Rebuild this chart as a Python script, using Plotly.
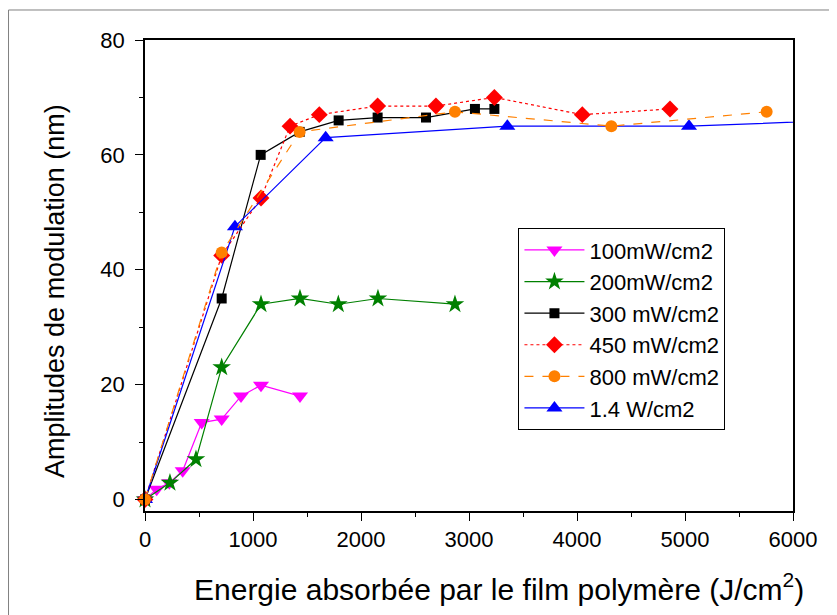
"""
Amplitude de modulation vs energie absorbee, par puissance d'ecriture
"""

import plotly.graph_objects as go

# Energy (J/cm2) and modulation amplitude (nm) for each power
x_100 = [0, 108, 225, 349, 525, 710, 889, 1074, 1435]
y_100 = [0, 1.8, 2.9, 5.0, 13.4, 14.0, 18.0, 19.9, 18.0]

x_200 = [0, 231, 472, 710, 1074, 1435, 1790, 2157, 2870]
y_200 = [0, 2.9, 7.0, 23.0, 34.0, 35.0, 34.0, 35.0, 34.0]

x_300 = [0, 710, 1071, 1432, 1793, 2154, 2602, 3055, 3235]
y_300 = [0, 35.0, 60.0, 64.0, 66.0, 66.5, 66.5, 68.0, 68.0]

x_450 = [0, 710, 1074, 1343, 1614, 2154, 2694, 3235, 4049, 4861]
y_450 = [0, 42.5, 52.5, 65.0, 67.0, 68.5, 68.5, 70.0, 67.0, 68.0]

x_800 = [0, 710, 1432, 2870, 4318, 5756]
y_800 = [0, 43.0, 64.0, 67.5, 65.0, 67.5]

x_1400 = [0, 833, 1673, 3355, 5037, 6720]
y_1400 = [0, 47.5, 63.0, 65.0, 65.0, 66.2]

FONT = 'Liberation Sans, Arial, sans-serif'

# drawing order (orange on top), legend order set by legendrank
series = [
    ('100mW/cm2', x_100, y_100, '#FF00FF', 'solid', 'triangle-down', 14, 1, False),
    ('200mW/cm2', x_200, y_200, '#008000', 'solid', 'star', 14, 2, False),
    ('300 mW/cm2', x_300, y_300, '#000000', 'solid', 'square', 10, 3, False),
    ('450 mW/cm2', x_450, y_450, '#FF0000', 'dot', 'diamond', 13, 4, False),
    ('1.4 W/cm2', x_1400, y_1400, '#0000FF', 'solid', 'triangle-up', 14, 6, True),
    ('800 mW/cm2', x_800, y_800, '#FF8000', 'dash', 'circle', 12, 5, False),
]

fig = go.Figure()

for name, xs, ys, color, dash, symbol, size, rank, clip in series:
    fig.add_trace(go.Scatter(
        name=name,
        x=xs,
        y=ys,
        mode='lines+markers',
        line=dict(color=color, width=1.2, dash=dash),
        marker=dict(symbol=symbol, size=size, color=color, line=dict(width=0)),
        legendrank=rank,
        cliponaxis=clip,
    ))

axis_common = dict(
    showgrid=False,
    zeroline=False,
    showline=True,
    linecolor='black',
    linewidth=1.5,
    mirror=True,
    ticks='outside',
    ticklen=8,
    tickwidth=1.2,
    tickcolor='black',
    tickfont=dict(family=FONT, size=22, color='black'),
)

# the page body adds an 8px offset, so the figure is 8px smaller
fig.update_layout(
    width=829,
    height=607,
    template='plotly_white',
    paper_bgcolor='white',
    plot_bgcolor='white',
    margin=dict(l=137, r=44, t=32, b=104),
    font=dict(family=FONT, color='black'),
    xaxis=dict(
        range=[0, 6000],
        tickmode='linear',
        tick0=0,
        dtick=1000,
        minor=dict(dtick=500, ticks='outside', ticklen=4, tickcolor='black'),
        **axis_common
    ),
    yaxis=dict(
        range=[-2, 80],
        tickmode='array',
        tickvals=[0, 20, 40, 60, 80],
        ticklabelstandoff=6,
        minor=dict(tickvals=[10, 30, 50, 70], ticks='outside', ticklen=4, tickcolor='black'),
        **axis_common
    ),
    showlegend=True,
    legend=dict(
        x=0.576,
        y=0.601,
        xanchor='left',
        yanchor='top',
        bgcolor='white',
        bordercolor='black',
        borderwidth=1.2,
        itemwidth=60,
        font=dict(family=FONT, size=22, color='black'),
        tracegroupgap=0,
    ),
)

# axis titles as annotations (x title sits right of centre in the original)
fig.add_annotation(
    x=0.546, y=-0.161, xref='paper', yref='paper',
    xanchor='center', yanchor='middle',
    text='Energie absorbée par le film polymère (J/cm<sup>2</sup>)',
    showarrow=False,
    font=dict(family=FONT, size=30, color='black'),
)
fig.add_annotation(
    x=-0.139, y=0.467, xref='paper', yref='paper',
    xanchor='center', yanchor='middle',
    text='Amplitudes de modulation (nm)',
    textangle=-90,
    showarrow=False,
    font=dict(family=FONT, size=27, color='black'),
)

# thin grey frame around the whole graph page
fig.add_shape(
    type='rect', xref='paper', yref='paper',
    x0=-0.2106, y0=-0.35, x1=1.3, y1=1.0637,
    line=dict(color='#808080', width=1),
    layer='below',
)

fig.write_html("out.html")
